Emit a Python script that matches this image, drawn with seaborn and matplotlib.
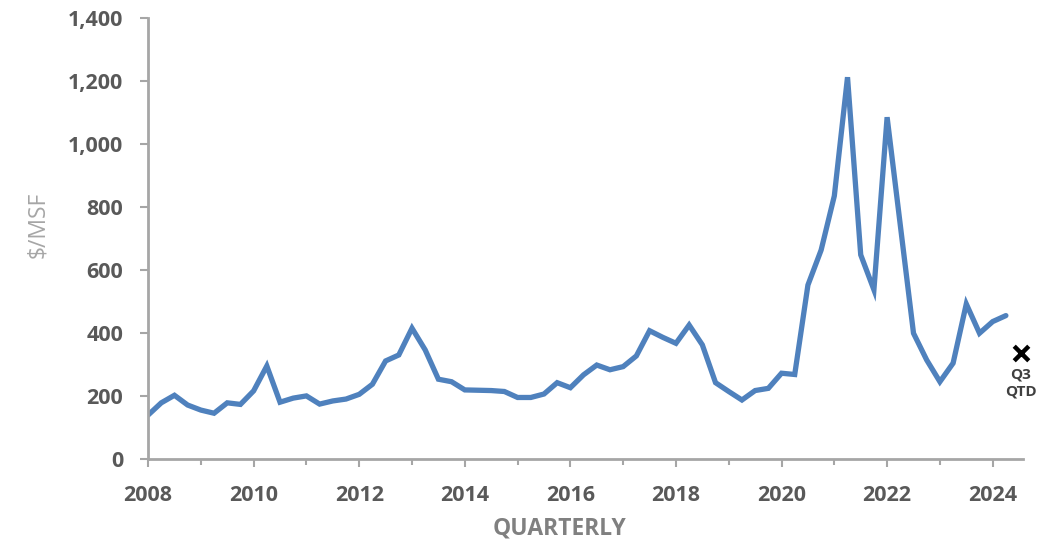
import seaborn as sns
import matplotlib.pyplot as plt
import matplotlib.ticker as mticker
import pandas as pd

# quarterly values, 2008 Q1 .. 2024 Q2 ($/MSF)
start_year = 2008
values = [139, 178, 202, 171, 155, 145, 178, 173,
          216, 295, 180, 193, 200, 174, 184, 190,
          205, 237, 311, 330, 415, 346, 253, 245,
          219, 218, 217, 214, 195, 195, 206, 242,
          226, 267, 298, 283, 293, 327, 407, 386,
          367, 425, 362, 242, 214, 187, 217, 224,
          272, 268, 552, 663, 835, 1212, 648, 537,
          1085, 742, 399, 314, 245, 304, 492, 399,
          436, 455]
qtd_value = 335
qtd_label = "Q3\nQTD"

df = pd.DataFrame({"quarter": [start_year + i / 4 for i in range(len(values))],
                   "value": values})
qtd_x = start_year + len(values) / 4

sns.set_theme(style="white")
plt.rcParams['font.family'] = ['Open Sans', 'DejaVu Sans']

fig = plt.figure(figsize=(10.59, 5.45), dpi=100)
ax = fig.add_axes([0.1398, 0.158, 0.826, 0.809])

sns.lineplot(data=df, x="quarter", y="value", ax=ax, color="#4F81BD",
             linewidth=3.8, solid_joinstyle="miter")
ax.scatter([qtd_x + 0.03], [qtd_value], marker="x", s=110, linewidths=3.2,
           color="black", zorder=5, clip_on=False)
ax.text(qtd_x + 0.03, qtd_value - 45, qtd_label, ha="center", va="top",
        fontsize=11, fontweight="bold", color="#404040", linespacing=1.25)

ax.set_xlim(2008, 2024.57)
ax.set_ylim(0, 1400)
ax.yaxis.set_major_locator(mticker.MultipleLocator(200))
ax.yaxis.set_major_formatter(mticker.StrMethodFormatter("{x:,.0f}"))
ax.xaxis.set_major_locator(mticker.MultipleLocator(2))
ax.xaxis.set_minor_locator(mticker.MultipleLocator(1))
ax.xaxis.set_major_formatter(mticker.StrMethodFormatter("{x:.0f}"))

spine_c = "#A6A6A6"
for s in ["top", "right"]:
    ax.spines[s].set_visible(False)
for s in ["left", "bottom"]:
    ax.spines[s].set_color(spine_c)
    ax.spines[s].set_linewidth(2)

ax.tick_params(axis="y", which="major", left=True, length=6, width=1.5,
               color=spine_c, pad=12, labelsize=15.5, labelcolor="#595959")
ax.tick_params(axis="x", which="major", bottom=True, length=6, width=1.5,
               color=spine_c, pad=13, labelsize=15.5, labelcolor="#595959")
ax.tick_params(axis="x", which="minor", bottom=True, length=4, width=1.5,
               color=spine_c)
for lbl in ax.get_xticklabels() + ax.get_yticklabels():
    lbl.set_fontweight("bold")

ax.set_xlabel("")
ax.set_ylabel("$/MSF", fontsize=16.5, color="#A6A6A6", labelpad=16)
ax.yaxis.set_label_coords(-0.112, 0.53)
fig.text(560 / 1059, 4 / 545, "QUARTERLY", ha="center", va="bottom",
         fontsize=16.5, fontweight="bold", color="#808080")

fig.savefig("out.png", dpi=100)
